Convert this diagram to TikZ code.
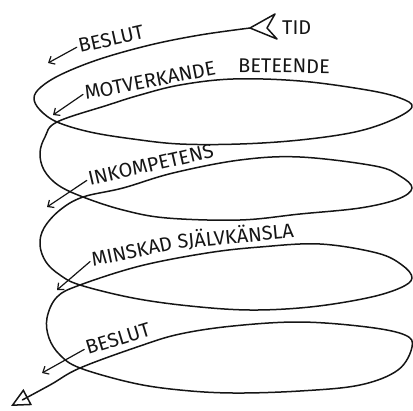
\documentclass[tikz,border=0pt]{standalone}
\usepackage{fontspec}
\setmainfont{Fira Sans}
\usetikzlibrary{arrows.meta, positioning, calc}
\definecolor{blyerts}{HTML}{151515}

\begin{document}
\begin{tikzpicture}[x=1bp, y=-1bp,
  spiral/.style={line width=1.5bp, line cap=round, line join=round, color=blyerts},
  etikett/.style={font=\fontsize{20}{24}\selectfont, inner sep=0pt, anchor=base west, color=blyerts},
  minipil/.style={line width=1.2bp, line cap=round, color=blyerts, shorten <=2bp,
    -{Straight Barb[length=5bp, width=9bp]}}]
\useasboundingbox (0,0) rectangle (413,411);

% --- LAGER 1: spiralen, fran TID ner till sista beslutet ---
\coordinate (start) at (250,28);
\coordinate (K1) at (57,122);
\coordinate (K2) at (83,197);
\coordinate (K3) at (80,285);
\coordinate (K4) at (80,368);
\coordinate (slut) at (11,406);

\draw[spiral, -{Triangle[open, length=19bp, width=18bp]}] plot[smooth, tension=0.6] coordinates {
  (start) (200,35) (150,45) (100,59) (62,74) (41,87) (34,98) (40,110) (K1)
  (90,132) (133,139) (180,144) (240,144) (300,140) (355,132) (392,120) (412,107)
  (400,98) (367,90) (300,81) (233,79) (180,85) (140,95) (108,105) (K1)
  (45,137) (40,153) (44,170) (58,185) (K2)
  (123,210) (167,218) (240,220) (300,214) (360,208) (398,199) (412,188)
  (400,176) (375,166) (300,157) (240,160) (173,173) (123,188) (K2)
  (60,210) (44,228) (40,245) (46,262) (60,275) (K3)
  (133,298) (190,306) (250,310) (310,307) (367,298) (400,288) (412,278)
  (402,265) (377,253) (320,244) (260,247) (207,253) (140,266) (K3)
  (57,297) (47,318) (49,338) (60,355) (K4)
  (133,383) (180,390) (233,393) (300,391) (360,385) (398,370) (412,347)
  (405,335) (367,327) (300,322) (233,326) (180,334) (140,346) (K4)
  (50,385) (slut)};

% stjartfjader vid TID
\draw[spiral] (start) -- ++(25,-14) -- ++(-8,14) -- ++(10,11) -- cycle;

% --- LAGER 2: texter langs spiralen ---
\node[etikett] (tid) at (282,34) {TID};
\node[etikett, rotate=12.6] (beslut1) at (80,53) {BESLUT};
\node[etikett, rotate=11] (motverkande) at (86,100) {MOTVERKANDE};
\node[etikett, rotate=-1] (beteende) at (238,72) {BETEENDE};
\node[etikett, rotate=13] (inkompetens) at (90,186) {INKOMPETENS};
\node[etikett, rotate=12] (minskad) at (93,267) {MINSKAD};
\node[etikett, rotate=5.5] (sjalvkansla) at (178,249) {SJÄLVKÄNSLA};
\node[etikett, rotate=17] (beslut2) at (88,355) {BESLUT};

% --- LAGER 3: sma pilar framfor texterna ---
\coordinate (p1) at (48,63);
\coordinate (p2) at (53,115);
\coordinate (p3) at (47,207);
\coordinate (p4) at (57,290);
\coordinate (p5) at (42,373);
\draw[minipil] (beslut1.west) -- (p1);
\draw[minipil] (motverkande.west) -- (p2);
\draw[minipil] (inkompetens.west) -- (p3);
\draw[minipil] (minskad.west) -- (p4);
\draw[minipil] (beslut2.west) -- (p5);
\end{tikzpicture}
\end{document}
